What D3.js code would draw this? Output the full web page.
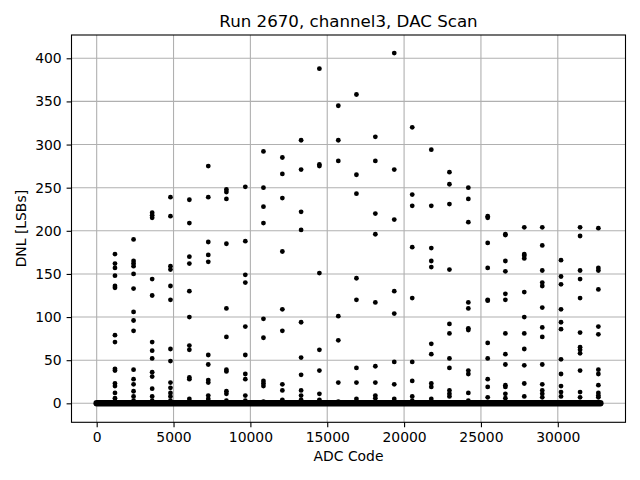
<!DOCTYPE html>
<html>

<head>
  <title>DAC Scan</title>
  <meta charset="utf-8">
  <script src="https://d3js.org/d3.v7.min.js"></script>
  <style>
    body { margin: 0; background: #fff; }
    svg text { font-family: "DejaVu Sans", sans-serif; fill: #000; }
    .grid line { stroke: #b0b0b0; stroke-width: 1.1px; }
    .axis path { display: none; }
    .axis line { stroke: #000; stroke-width: 1.1px; }
    .axis text { font-size: 13.9px; }
  </style>
</head>

<body>
  <svg width="640" height="480"></svg>
  <script>

    // codes where the big DNL spikes sit, one list of DNL values per code
    var spikeCodes = [1190, 2400, 3610, 4800, 6030, 7260, 8440, 9670, 10850, 12080,
      13300, 14490, 15720, 16900, 18130, 19360, 20530, 21770, 22950, 24180,
      25440, 26590, 27820, 28990, 30210, 31450, 32640];
    var spikeDnl = [
      [173, 162, 157, 148, 136, 134, 79, 71, 40, 38, 23, 20, 12, 6, 3],
      [190, 165, 162, 159, 150, 133, 106, 96, 84, 39, 28, 22, 14, 8, 3],
      [221, 218, 215, 144, 125, 71, 61, 52, 36, 31, 17, 8, 3],
      [239, 217, 159, 155, 136, 120, 63, 49, 24, 18, 12, 8, 3],
      [236, 209, 170, 162, 130, 100, 67, 62, 30, 28, 5],
      [275, 239, 187, 172, 164, 56, 45, 27, 24, 9, 5],
      [248, 245, 237, 185, 110, 77, 39, 37, 14, 11, 3],
      [251, 188, 149, 140, 89, 56, 34, 28, 9, 3],
      [292, 250, 228, 209, 98, 76, 26, 23, 20, 2],
      [285, 266, 238, 176, 109, 84, 22, 15, 4],
      [305, 271, 222, 201, 94, 53, 33, 15, 9, 4],
      [388, 277, 275, 151, 62, 38, 11, 4],
      [345, 305, 281, 101, 73, 24, 2],
      [358, 265, 243, 145, 120, 41, 24, 5],
      [309, 281, 220, 196, 117, 43, 24, 9, 6],
      [406, 271, 213, 130, 104, 48, 22, 5],
      [320, 242, 229, 181, 122, 48, 26, 8, 3],
      [294, 229, 180, 165, 158, 69, 57, 23, 19, 5],
      [268, 254, 231, 155, 92, 81, 52, 41, 15, 11, 8],
      [250, 237, 210, 117, 110, 87, 85, 38, 34, 12, 3],
      [217, 215, 186, 157, 120, 119, 70, 52, 28, 19, 7],
      [196, 195, 165, 153, 127, 120, 81, 57, 45, 21, 19, 11, 6],
      [204, 173, 171, 168, 129, 100, 81, 63, 44, 23, 8],
      [204, 183, 154, 140, 136, 111, 88, 77, 45, 22, 15, 11, 7],
      [166, 147, 138, 109, 94, 86, 51, 34, 20, 13, 8],
      [204, 194, 154, 144, 122, 82, 65, 62, 58, 38, 13, 7],
      [203, 157, 154, 132, 89, 80, 39, 34, 21, 12, 9, 7]
    ];
    // every other code sits at DNL ~ 0, drawn as one dense band
    var baseCodes = [0, 32767];
    var baseDnl = [0, 0];

    var xTicks = [0, 5000, 10000, 15000, 20000, 25000, 30000];
    var yTicks = [0, 50, 100, 150, 200, 250, 300, 350, 400];

    // plot box (window.top is read-only, so no "top" here)
    var axL = 71.5, axR = 625.5, axT = 35, axB = 422.3;
    var svg = d3.select('svg');

    var x = d3.scaleLinear().domain([-1638.35, 34405.35]).range([axL, axR]);
    var y = d3.scaleLinear().domain([-22, 427]).range([axB, axT]);

    // grid
    var grid = svg.append('g').attr('class', 'grid');
    grid.selectAll('.gx').data(xTicks).enter().append('line')
      .attr('x1', d => x(d)).attr('x2', d => x(d))
      .attr('y1', axT).attr('y2', axB);
    grid.selectAll('.gy').data(yTicks).enter().append('line')
      .attr('x1', axL).attr('x2', axR)
      .attr('y1', d => y(d)).attr('y2', d => y(d));

    // band of points at zero
    svg.append('path')
      .datum(baseCodes.map((c, i) => [c, baseDnl[i]]))
      .attr('d', d3.line().x(d => x(d[0])).y(d => y(d[1])))
      .attr('stroke', '#000')
      .attr('stroke-width', 6.5)
      .attr('stroke-linecap', 'round')
      .attr('fill', 'none');

    var pts = [];
    spikeCodes.forEach(function (c, i) {
      spikeDnl[i].forEach(function (v) { pts.push([c, v]); });
    });
    svg.append('g').selectAll('circle')
      .data(pts)
      .enter().append('circle')
      .attr('cx', d => x(d[0]))
      .attr('cy', d => y(d[1]))
      .attr('r', 2.4)
      .attr('fill', '#000');

    // axes
    svg.append('g').attr('class', 'axis')
      .attr('transform', 'translate(0,' + axB + ')')
      .call(d3.axisBottom(x).tickValues(xTicks).tickFormat(d3.format('d'))
        .tickSize(4.9).tickPadding(4.9));
    svg.append('g').attr('class', 'axis')
      .attr('transform', 'translate(' + axL + ',0)')
      .call(d3.axisLeft(y).tickValues(yTicks).tickSize(4.9).tickPadding(4.9));

    svg.append('rect')
      .attr('x', axL).attr('y', axT)
      .attr('width', axR - axL).attr('height', axB - axT)
      .attr('fill', 'none').attr('stroke', '#000').attr('stroke-width', 1.1);

    svg.append('text')
      .attr('x', (axL + axR) / 2).attr('y', 26.7)
      .attr('text-anchor', 'middle')
      .style('font-size', '16.67px')
      .text('Run 2670, channel3, DAC Scan');

    svg.append('text')
      .attr('x', (axL + axR) / 2).attr('y', 461)
      .attr('text-anchor', 'middle')
      .style('font-size', '13.9px')
      .text('ADC Code');

    svg.append('text')
      .attr('transform', 'translate(26,' + (axT + axB) / 2 + ') rotate(-90)')
      .attr('text-anchor', 'middle')
      .style('font-size', '13.9px')
      .text('DNL [LSBs]');

  </script>
</body>

</html>
